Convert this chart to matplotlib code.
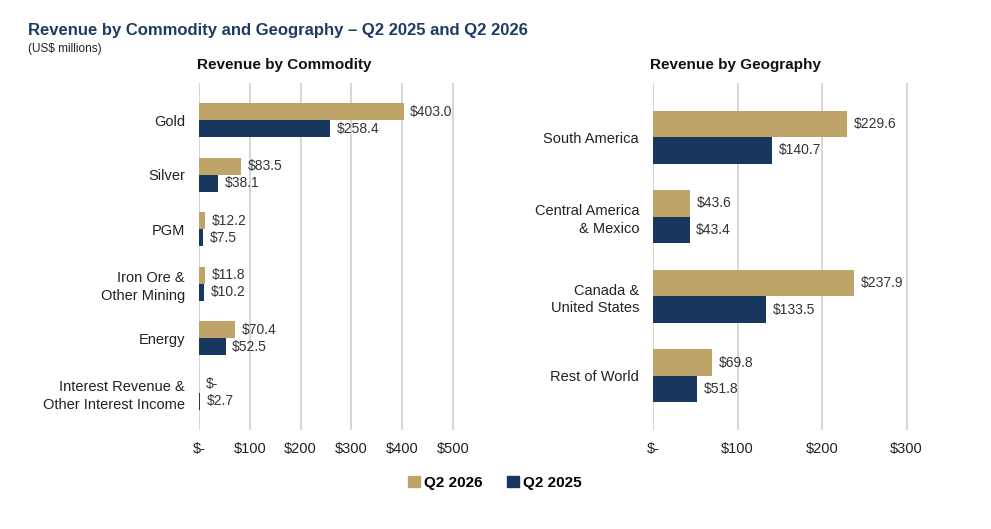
import matplotlib
matplotlib.use("Agg")
import matplotlib.pyplot as plt
from matplotlib.patches import Patch

commodities = ["Gold", "Silver", "PGM", "Iron Ore &\nOther Mining", "Energy",
               "Interest Revenue &\nOther Interest Income"]
commodity_2026 = [403.0, 83.5, 12.2, 11.8, 70.4, 0.0]
commodity_2025 = [258.4, 38.1, 7.5, 10.2, 52.5, 2.7]

regions = ["South America", "Central America\n& Mexico", "Canada &\nUnited States",
           "Rest of World"]
region_2026 = [229.6, 43.6, 237.9, 69.8]
region_2025 = [140.7, 43.4, 133.5, 51.8]

left_ticks = [0, 100, 200, 300, 400, 500]
right_ticks = [0, 100, 200, 300]

GOLD = "#BFA46A"
NAVY = "#17375E"
TEXT = "#222222"
BODY = ["Liberation Sans", "DejaVu Sans"]


def money(v):
    return "$-" if v == 0 else f"${v:,.1f}"


def tick_money(v):
    return "$-" if v == 0 else f"${v:,.0f}"


def panel(ax, cats, new, old, ticks, xmax, bar_h):
    ys = list(range(len(cats)))
    ax.barh([y - bar_h / 2 for y in ys], new, height=bar_h, color=GOLD, zorder=3)
    ax.barh([y + bar_h / 2 for y in ys], old, height=bar_h, color=NAVY, zorder=3)
    for y, a, b in zip(ys, new, old):
        ax.text(a + xmax * 0.025, y - bar_h / 2, money(a), va="center", ha="left",
                fontsize=10, color="#333333", family=BODY)
        ax.text(b + xmax * 0.025, y + bar_h / 2, money(b), va="center", ha="left",
                fontsize=10, color="#333333", family=BODY)
    ax.set_yticks(ys)
    ax.set_yticklabels(cats, fontsize=10.5, color=TEXT, family=BODY, linespacing=1.3)
    ax.set_xticks(ticks)
    ax.set_xticklabels([tick_money(t) for t in ticks], fontsize=10.5, color=TEXT,
                       family=BODY)
    ax.set_xlim(0, xmax)
    ax.set_ylim(len(cats) - 1 + 0.68, -0.68)
    ax.grid(axis="x", color="#CFCFCF", linewidth=1.2, zorder=0)
    for s in ax.spines.values():
        s.set_visible(False)
    ax.tick_params(axis="y", length=0, pad=10)
    ax.tick_params(axis="x", length=0, pad=9)


fig = plt.figure(figsize=(9.91, 5.29), dpi=100)

ax1 = fig.add_axes([199 / 991, 1 - 430 / 529, 264 / 991, 347 / 529])
panel(ax1, commodities, commodity_2026, commodity_2025, left_ticks, 520, 0.31)

ax2 = fig.add_axes([653 / 991, 1 - 430 / 529, 262 / 991, 347 / 529])
panel(ax2, regions, region_2026, region_2025, right_ticks, 310, 0.334)

fig.text(28 / 991, 1 - 30 / 529, "Revenue by Commodity and Geography \u2013 Q2 2025 and Q2 2026",
         fontsize=12, fontweight="bold", color="#1F3B63", family=BODY, va="center")
fig.text(28 / 991, 1 - 49 / 529, "(US$ millions)", fontsize=8.5, color=TEXT,
         family=BODY, va="center")
fig.text(284 / 991, 1 - 65 / 529, "Revenue by Commodity", fontsize=11,
         fontweight="bold", color="#111111", family=BODY, va="center", ha="center")
fig.text(736 / 991, 1 - 65 / 529, "Revenue by Geography", fontsize=11,
         fontweight="bold", color="#111111", family=BODY, va="center", ha="center")

handles = [Patch(color=GOLD, label="Q2 2026"), Patch(color=NAVY, label="Q2 2025")]
fig.legend(handles=handles, loc="center", bbox_to_anchor=(495 / 991, 1 - 483 / 529),
           ncol=2, frameon=False, handlelength=0.75, handleheight=0.75,
           handletextpad=0.3, columnspacing=1.6,
           prop={"family": BODY, "weight": "bold", "size": 11})

fig.savefig("out.png", dpi=100, facecolor="white")
